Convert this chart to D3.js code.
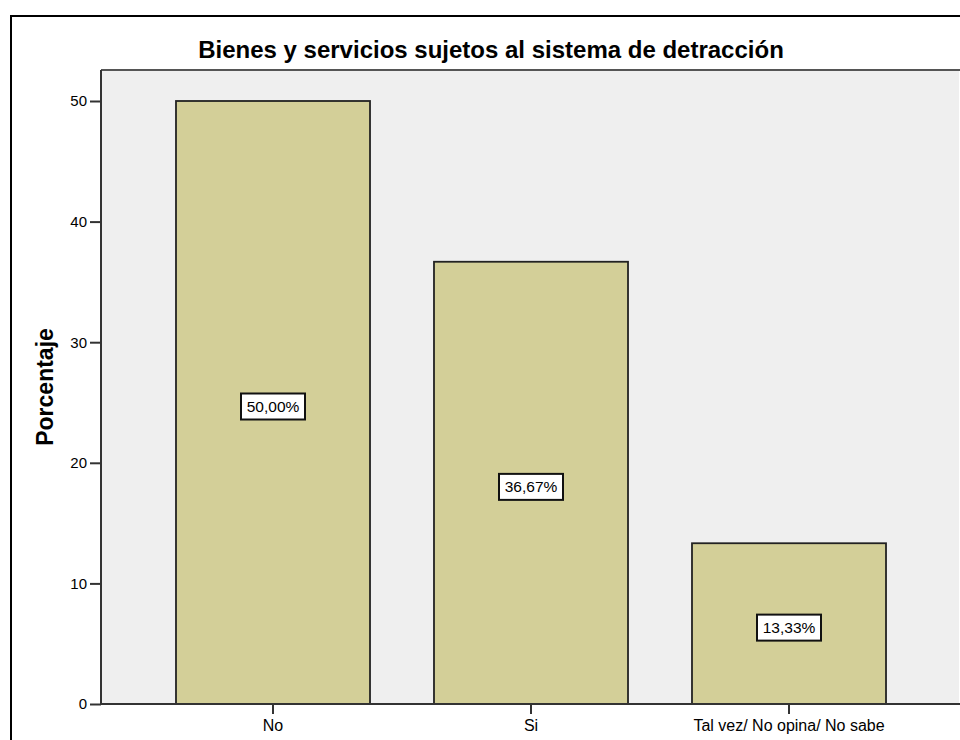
<!DOCTYPE html>
<html>
<head>
<meta charset="utf-8">
<script src="https://cdn.jsdelivr.net/npm/d3@7"></script>
<style>
  body { margin: 0; background: #fff; }
  text { font-family: Arial, "Liberation Sans", sans-serif; fill: #000; }
</style>
</head>
<body>
<svg id="chart" width="960" height="740"></svg>
<script>
// data
var categories = ["No", "Si", "Tal vez/ No opina/ No sabe"];
var values = [50.00, 36.67, 13.33];
var yTicks = [0, 10, 20, 30, 40, 50];
var title = "Bienes y servicios sujetos al sistema de detracción";

var svg = d3.select("#chart");

// outer frame
svg.append("rect")
  .attr("x", 11).attr("y", 16).attr("width", 960).attr("height", 740)
  .attr("fill", "none").attr("stroke", "#000").attr("stroke-width", 2);

var plot = { left: 101, top: 70, right: 959, bottom: 704 };

var x = d3.scaleBand().domain(categories)
  .range([144, 918]).paddingInner(0.248).paddingOuter(0.124);
var y = d3.scaleLinear().domain([0, 50]).range([plot.bottom, 101]);

// plot background
svg.append("rect")
  .attr("x", plot.left).attr("y", plot.top)
  .attr("width", plot.right - plot.left).attr("height", plot.bottom - plot.top)
  .attr("fill", "#efefef");
svg.append("line")
  .attr("x1", plot.left).attr("x2", 960).attr("y1", plot.top).attr("y2", plot.top)
  .attr("stroke", "#555").attr("stroke-width", 2);

// title
svg.append("text")
  .attr("x", 491).attr("y", 58)
  .attr("text-anchor", "middle")
  .style("font-size", "24px").style("font-weight", "bold")
  .text(title);

// bars
var bars = svg.selectAll("g.bar")
    .data(values)
  .enter().append("g").attr("class", "bar");
bars.append("rect")
  .attr("x", function(d, i) { return x(categories[i]); })
  .attr("y", function(d) { return y(d); })
  .attr("width", x.bandwidth())
  .attr("height", function(d) { return y(0) - y(d); })
  .attr("fill", "#d3cf98").attr("stroke", "#222").attr("stroke-width", 1.8);

// value labels
var lab = bars.append("g")
  .attr("transform", function(d, i) {
    return "translate(" + (x(categories[i]) + x.bandwidth() / 2) + "," + (y(d / 2) + 4) + ")";
  });
lab.append("rect")
  .attr("x", -32).attr("y", -13).attr("width", 64).attr("height", 26)
  .attr("fill", "#fff").attr("stroke", "#111").attr("stroke-width", 2);
lab.append("text")
  .attr("text-anchor", "middle").attr("dy", "0.36em")
  .style("font-size", "15.5px")
  .text(function(d) { return d.toFixed(2).replace(".", ",") + "%"; });

// axes
var yAxis = svg.append("g")
  .attr("transform", "translate(" + plot.left + ",0)")
  .call(d3.axisLeft(y).tickValues(yTicks).tickSize(11).tickSizeOuter(0).tickPadding(3));
yAxis.select(".domain").attr("stroke", "#333").attr("stroke-width", 2)
  .attr("d", "M0," + plot.top + "V" + plot.bottom);
yAxis.selectAll(".tick line").attr("stroke", "#333").attr("stroke-width", 2);
yAxis.selectAll(".tick text").style("font-size", "15px").attr("fill", "#000");

var xAxis = svg.append("g")
  .attr("transform", "translate(0," + plot.bottom + ")")
  .call(d3.axisBottom(x).tickSize(10).tickSizeOuter(0).tickPadding(6));
xAxis.select(".domain").attr("stroke", "#333").attr("stroke-width", 2)
  .attr("d", "M" + plot.left + ",0H960");
xAxis.selectAll(".tick line").attr("stroke", "#333").attr("stroke-width", 2);
xAxis.selectAll(".tick text").style("font-size", "16px").attr("fill", "#000");

// y axis title
svg.append("text")
  .attr("transform", "translate(53,387) rotate(-90)")
  .attr("text-anchor", "middle")
  .style("font-size", "23px").style("font-weight", "bold")
  .text("Porcentaje");
</script>
</body>
</html>
